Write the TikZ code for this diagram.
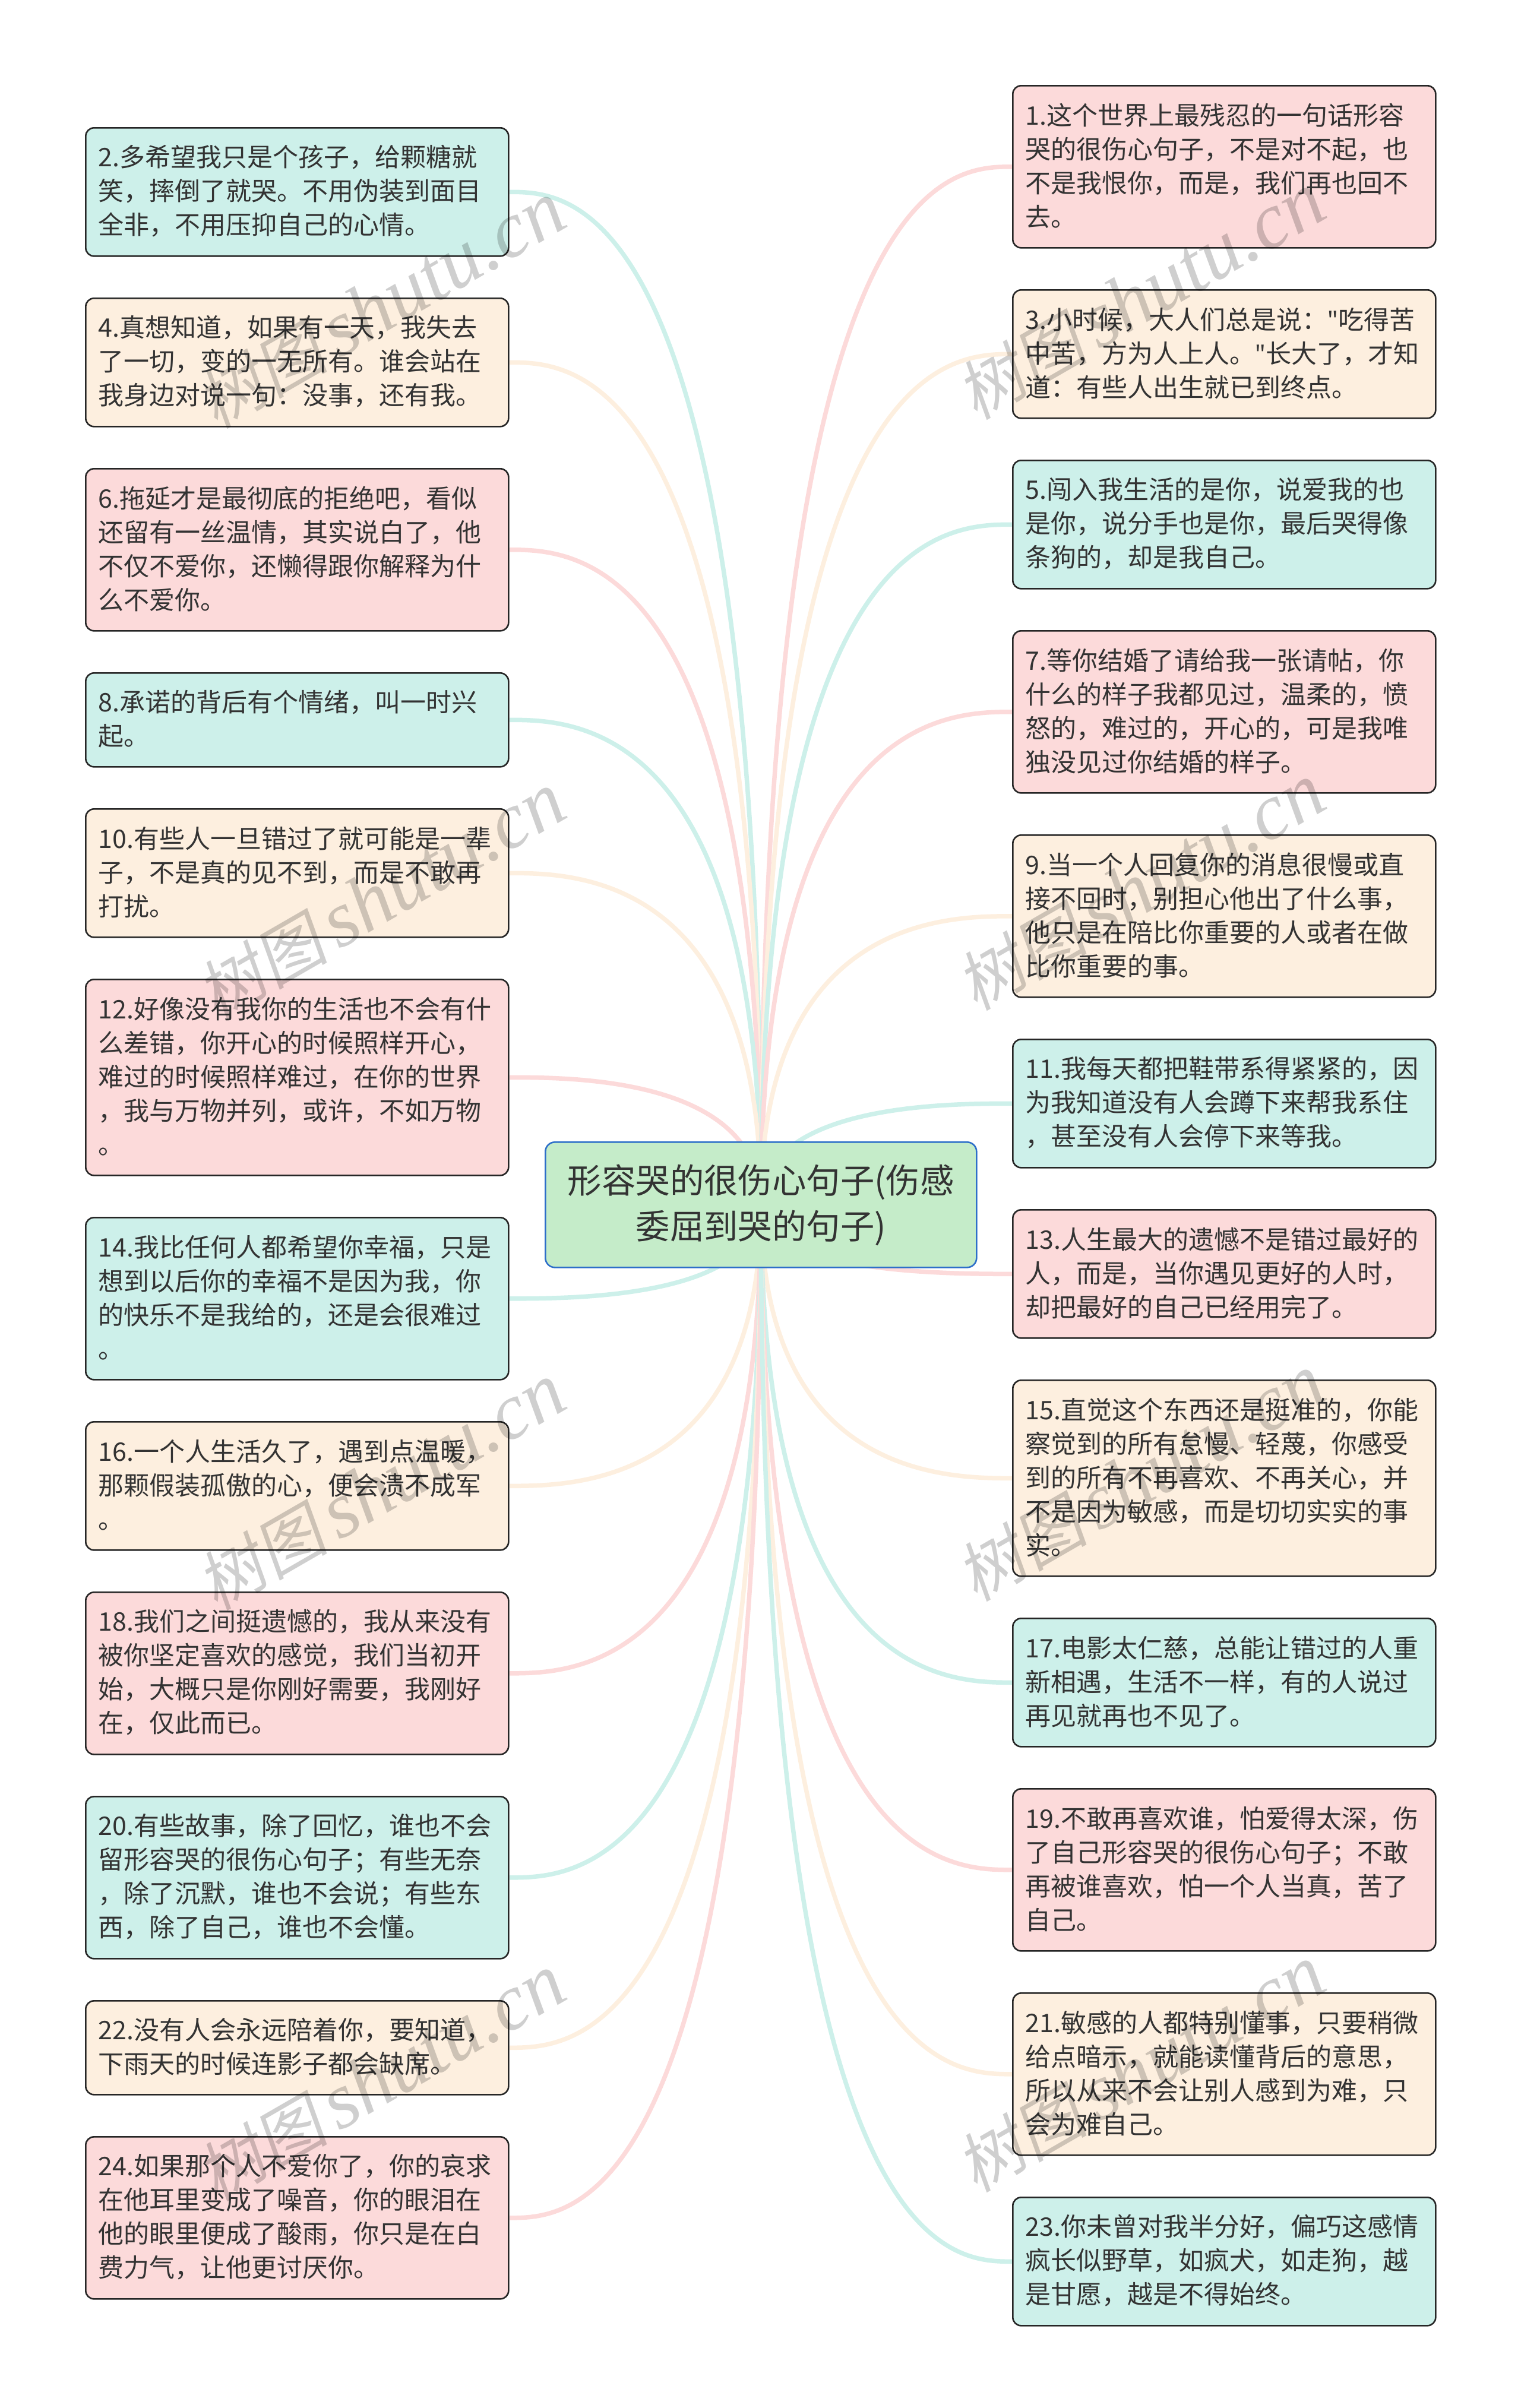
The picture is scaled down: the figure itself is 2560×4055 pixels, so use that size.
\documentclass[tikz,border=0pt]{standalone}
\usepackage{fontspec}
\setmainfont{Noto Sans CJK SC}
\newfontfamily\wmlatin{Liberation Serif}
\newfontfamily\wmcjk[FakeSlant=0.18]{Noto Sans CJK SC}
\newfontfamily\qfont{Noto Sans}
\usetikzlibrary{calc,backgrounds}
\definecolor{tealc}{HTML}{CDF0EA}
\definecolor{creamc}{HTML}{FDEFDF}
\definecolor{pinkc}{HTML}{FCDADA}
\definecolor{inkc}{HTML}{333333}
\definecolor{rootfill}{HTML}{C5ECC9}
\definecolor{rootline}{HTML}{2E6FC9}
\tikzset{
  leafbox/.style={draw=black!85,line width=2.6pt,rounded corners=14pt,anchor=north west,
    minimum width=712pt,inner xsep=21.5pt,inner ysep=0pt,text width=669pt,align=left,
    text=inkc,font=\fontsize{43}{57}\selectfont,
    execute at end node={\par\vspace{3pt}}},
  teal box/.style={leafbox,fill=tealc},
  cream box/.style={leafbox,fill=creamc},
  pink box/.style={leafbox,fill=pinkc},
  rootbox/.style={draw=rootline,line width=2.6pt,fill=rootfill,rounded corners=16pt,
    minimum width=726pt,minimum height=211pt,inner sep=0pt,align=center,anchor=north west,
    text=inkc,font=\fontsize{57.4}{77}\selectfont},
  linkline/.style={line width=7.5pt},
  wmark/.style={rotate=30,text=black,opacity=0.19,font=\fontsize{110}{118}\selectfont}
}
\newcommand{\linkto}[3]{%
  \draw[linkline,#3] (root.center) .. controls (root.center |- #1.#2) and ($(root.center |- #1.#2)!0.75!(#1.#2)$) .. (#1.#2);}
\newcommand{\wmtext}{{\wmcjk 树图}\hspace{18pt}{\wmlatin\itshape\fontsize{134}{134}\selectfont shutu.cn}}
\newcommand{\qq}{{\qfont"}}
\begin{document}
\begin{tikzpicture}[x=1pt,y=-1pt]
\useasboundingbox (0,0) rectangle (2560,4055);
\node[rootbox] (root) at (917,1922) {形容哭的很伤心句子(伤感\\委屈到哭的句子)};
% left column
\node[teal box,minimum height=216pt] (n2) at (143,214) {2.多希望我只是个孩子，给颗糖就\\笑，摔倒了就哭。不用伪装到面目\\全非，不用压抑自己的心情。};
\node[cream box,minimum height=216pt] (n4) at (143,501) {4.真想知道，如果有一天，我失去\\了一切，变的一无所有。谁会站在\\我身边对说一句：没事，还有我。};
\node[pink box,minimum height=273pt] (n6) at (143,788) {6.拖延才是最彻底的拒绝吧，看似\\还留有一丝温情，其实说白了，他\\不仅不爱你，还懒得跟你解释为什\\么不爱你。};
\node[teal box,minimum height=158pt] (n8) at (143,1132) {8.承诺的背后有个情绪，叫一时兴\\起。};
\node[cream box,minimum height=216pt] (n10) at (143,1361) {10.有些人一旦错过了就可能是一辈\\子，不是真的见不到，而是不敢再\\打扰。};
\node[pink box,minimum height=330pt] (n12) at (143,1648) {12.好像没有我你的生活也不会有什\\么差错，你开心的时候照样开心，\\难过的时候照样难过，在你的世界\\，我与万物并列，或许，不如万物\\。};
\node[teal box,minimum height=273pt] (n14) at (143,2049) {14.我比任何人都希望你幸福，只是\\想到以后你的幸福不是因为我，你\\的快乐不是我给的，还是会很难过\\。};
\node[cream box,minimum height=216pt] (n16) at (143,2393) {16.一个人生活久了，遇到点温暖，\\那颗假装孤傲的心，便会溃不成军\\。};
\node[pink box,minimum height=273pt] (n18) at (143,2680) {18.我们之间挺遗憾的，我从来没有\\被你坚定喜欢的感觉，我们当初开\\始，大概只是你刚好需要，我刚好\\在，仅此而已。};
\node[teal box,minimum height=273pt] (n20) at (143,3024) {20.有些故事，除了回忆，谁也不会\\留形容哭的很伤心句子；有些无奈\\，除了沉默，谁也不会说；有些东\\西，除了自己，谁也不会懂。};
\node[cream box,minimum height=158pt] (n22) at (143,3368) {22.没有人会永远陪着你，要知道，\\下雨天的时候连影子都会缺席。};
\node[pink box,minimum height=273pt] (n24) at (143,3597) {24.如果那个人不爱你了，你的哀求\\在他耳里变成了噪音，你的眼泪在\\他的眼里便成了酸雨，你只是在白\\费力气，让他更讨厌你。};
% right column
\node[pink box,minimum height=273pt] (n1) at (1704,143) {1.这个世界上最残忍的一句话形容\\哭的很伤心句子，不是对不起，也\\不是我恨你，而是，我们再也回不\\去。};
\node[cream box,minimum height=216pt] (n3) at (1704,487) {3.小时候，大人们总是说：\qq 吃得苦\\中苦，方为人上人。\qq 长大了，才知\\道：有些人出生就已到终点。};
\node[teal box,minimum height=216pt] (n5) at (1704,774) {5.闯入我生活的是你，说爱我的也\\是你，说分手也是你，最后哭得像\\条狗的，却是我自己。};
\node[pink box,minimum height=273pt] (n7) at (1704,1061) {7.等你结婚了请给我一张请帖，你\\什么的样子我都见过，温柔的，愤\\怒的，难过的，开心的，可是我唯\\独没见过你结婚的样子。};
\node[cream box,minimum height=273pt] (n9) at (1704,1405) {9.当一个人回复你的消息很慢或直\\接不回时，别担心他出了什么事，\\他只是在陪比你重要的人或者在做\\比你重要的事。};
\node[teal box,minimum height=216pt] (n11) at (1704,1749) {11.我每天都把鞋带系得紧紧的，因\\为我知道没有人会蹲下来帮我系住\\，甚至没有人会停下来等我。};
\node[pink box,minimum height=216pt] (n13) at (1704,2036) {13.人生最大的遗憾不是错过最好的\\人，而是，当你遇见更好的人时，\\却把最好的自己已经用完了。};
\node[cream box,minimum height=330pt] (n15) at (1704,2323) {15.直觉这个东西还是挺准的，你能\\察觉到的所有怠慢、轻蔑，你感受\\到的所有不再喜欢、不再关心，并\\不是因为敏感，而是切切实实的事\\实。};
\node[teal box,minimum height=216pt] (n17) at (1704,2724) {17.电影太仁慈，总能让错过的人重\\新相遇，生活不一样，有的人说过\\再见就再也不见了。};
\node[pink box,minimum height=273pt] (n19) at (1704,3011) {19.不敢再喜欢谁，怕爱得太深，伤\\了自己形容哭的很伤心句子；不敢\\再被谁喜欢，怕一个人当真，苦了\\自己。};
\node[cream box,minimum height=273pt] (n21) at (1704,3355) {21.敏感的人都特别懂事，只要稍微\\给点暗示，就能读懂背后的意思，\\所以从来不会让别人感到为难，只\\会为难自己。};
\node[teal box,minimum height=216pt] (n23) at (1704,3699) {23.你未曾对我半分好，偏巧这感情\\疯长似野草，如疯犬，如走狗，越\\是甘愿，越是不得始终。};
% connectors
\begin{scope}[on background layer]
\linkto{n2}{east}{tealc}
\linkto{n4}{east}{creamc}
\linkto{n6}{east}{pinkc}
\linkto{n8}{east}{tealc}
\linkto{n10}{east}{creamc}
\linkto{n12}{east}{pinkc}
\linkto{n14}{east}{tealc}
\linkto{n16}{east}{creamc}
\linkto{n18}{east}{pinkc}
\linkto{n20}{east}{tealc}
\linkto{n22}{east}{creamc}
\linkto{n24}{east}{pinkc}
\linkto{n1}{west}{pinkc}
\linkto{n3}{west}{creamc}
\linkto{n5}{west}{tealc}
\linkto{n7}{west}{pinkc}
\linkto{n9}{west}{creamc}
\linkto{n11}{west}{tealc}
\linkto{n13}{west}{pinkc}
\linkto{n15}{west}{creamc}
\linkto{n17}{west}{tealc}
\linkto{n19}{west}{pinkc}
\linkto{n21}{west}{creamc}
\linkto{n23}{west}{tealc}
\end{scope}
% watermarks
\node[wmark] (w1) at (642,515) {\wmtext};
\node[wmark] (w2) at (642,1510) {\wmtext};
\node[wmark] (w3) at (642,2505) {\wmtext};
\node[wmark] (w4) at (642,3500) {\wmtext};
\node[wmark] (w5) at (1921,500) {\wmtext};
\node[wmark] (w6) at (1921,1495) {\wmtext};
\node[wmark] (w7) at (1921,2490) {\wmtext};
\node[wmark] (w8) at (1921,3485) {\wmtext};
\end{tikzpicture}
\end{document}
